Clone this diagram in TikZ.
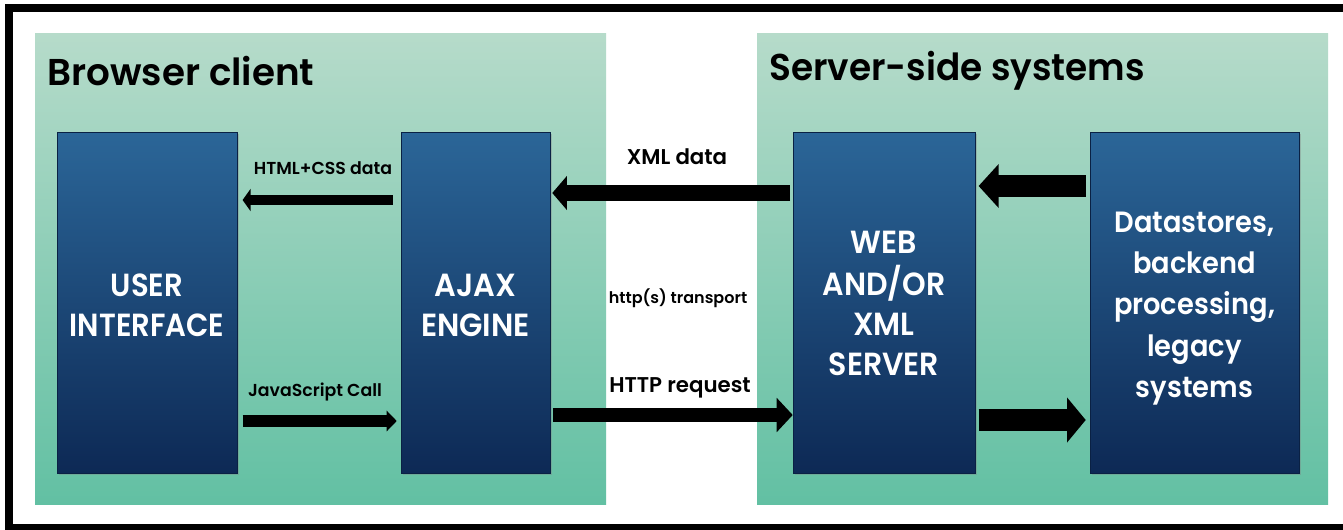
\documentclass[tikz,border=0pt]{standalone}
\usepackage{fontspec}
\usepackage{graphicx}
\setmainfont{Poppins}[BoldFont=* SemiBold]
\usetikzlibrary{shadows,arrows.meta,calc}
\definecolor{paneltop}{HTML}{B6DBCA}
\definecolor{panelbot}{HTML}{62C0A3}
\definecolor{boxtop}{HTML}{2B6698}
\definecolor{boxbot}{HTML}{0D2955}
\newcommand\sqz[3][0.93]{\raisebox{#2}[\height][\depth]{\scalebox{#1}[1]{\begin{tabular}{@{}c@{}}#3\end{tabular}}}}
\tikzset{
  panel/.style={rectangle, inner sep=0pt, top color=paneltop, bottom color=panelbot},
  bluebox/.style={rectangle, inner sep=0pt, top color=boxtop, bottom color=boxbot,
    draw=boxbot!80!black, line width=0.4pt,
    drop shadow={shadow xshift=1.5pt, shadow yshift=-1.5pt, opacity=0.35},
    text=white, align=center, font=\bfseries\fontsize{24}{30}\selectfont},
  ptitle/.style={anchor=west, inner sep=0pt, font=\bfseries\fontsize{28}{32}\selectfont},
  lbl/.style={inner sep=0pt, font=\bfseries\fontsize{13}{15}\selectfont},
}
\begin{document}
\begin{tikzpicture}[x=0.75pt,y=-0.75pt]
\useasboundingbox (0,0) rectangle (1343,529);
\fill[white] (0,0) rectangle (1343,529);
\begin{scope}
\clip (0,0) rectangle (1343,529);
\draw[line width=6pt] (9,8) rectangle (1380,528);
\end{scope}
% panels
\node[panel, minimum width={571*0.75pt}, minimum height={471*0.75pt}] (left) at (320.5,268.5) {};
\node[panel, minimum width={571*0.75pt}, minimum height={471*0.75pt}] (right) at (1042.5,268.5) {};
\node[ptitle] (ltitle) at (47,71) {Browser client};
\node[ptitle] (rtitle) at (769,71) {\scalebox{0.96}[1]{Server-side systems}};
% boxes
\node[bluebox, minimum width={180*0.75pt}, minimum height={341*0.75pt}] (ui) at (147,302.5) {\sqz[0.91]{-4.5pt}{USER\\INTERFACE}};
\node[bluebox, minimum width={149*0.75pt}, minimum height={341*0.75pt}] (ajax) at (475.5,302.5) {\sqz[0.95]{-4.5pt}{AJAX\\ENGINE}};
\node[bluebox, minimum width={182*0.75pt}, minimum height={341*0.75pt}] (web) at (884,302.5) {\sqz[0.94]{-3pt}{WEB\\AND/OR\\XML\\SERVER}};
\node[bluebox, minimum width={209*0.75pt}, minimum height={341*0.75pt}, font=\bfseries\fontsize{22}{31}\selectfont] (ds) at (1194.5,302.5) {\sqz[0.93]{-3pt}{Datastores,\\backend\\processing,\\legacy\\systems}};
% arrows
\draw[line width=7.5pt, -{Triangle[width=16.5pt,length=6pt]}] ([xshift=-6pt]ajax.west |- 0,200) -- ([xshift=4pt]ui.east |- 0,200);
\draw[line width=9pt, -{Triangle[width=15pt,length=7.5pt]}] ([xshift=4pt]ui.east |- 0,421) -- ([xshift=-3pt]ajax.west |- 0,421);
\draw[line width=12pt, -{Triangle[width=25pt,length=11pt]}] ([xshift=-2pt]web.west |- 0,193) -- ([xshift=1.5pt]ajax.east |- 0,193);
\draw[line width=11pt, -{Triangle[width=25pt,length=12pt]}] ([xshift=2pt]ajax.east |- 0,415) -- (web.west |- 0,415);
\draw[line width=16pt, -{Triangle[width=32pt,length=15pt]}] ([xshift=-3pt]ds.west |- 0,186) -- ([xshift=2.5pt]web.east |- 0,186);
\draw[line width=16.5pt, -{Triangle[width=33pt,length=14pt]}] ([xshift=2.5pt]web.east |- 0,420) -- ([xshift=-3pt]ds.west |- 0,420);
% labels
\node[lbl] (l1) at (323,168) {HTML+CSS data};
\node[lbl] (l2) at (315,392) {JavaScript Call};
\node[lbl, font=\bfseries\fontsize{16}{18}\selectfont] (l3) at (677,157) {XML data};
\node[lbl, font=\bfseries\fontsize{12}{14}\selectfont] (l4) at (678,298) {http(s) transport};
\node[lbl, font=\bfseries\fontsize{16}{18}\selectfont] (l5) at (680,388) {HTTP request};
\end{tikzpicture}
\end{document}
